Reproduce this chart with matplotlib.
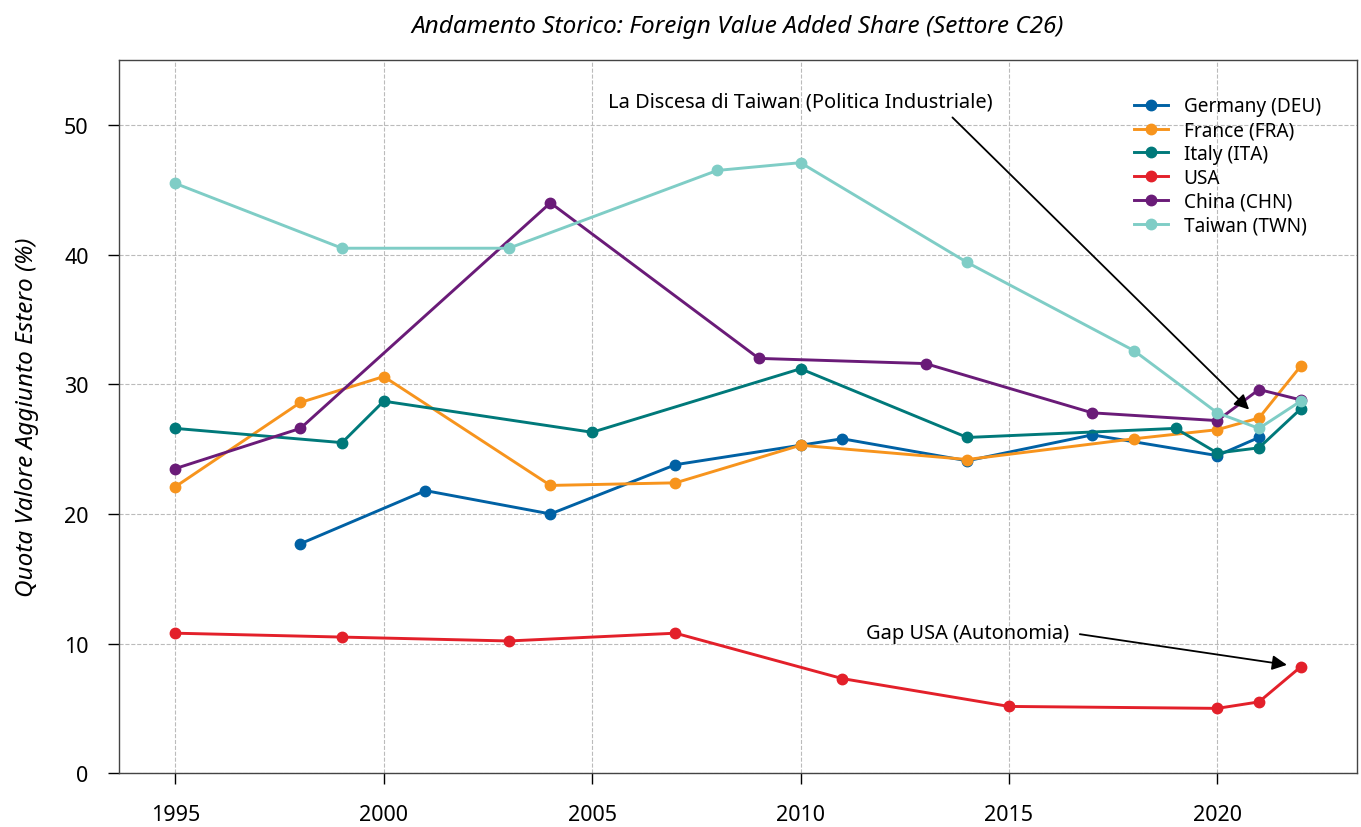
import matplotlib.pyplot as plt

plt.switch_backend('agg')
plt.rcParams['font.family'] = ['Noto Sans', 'DejaVu Sans']

# dati (quota % valore aggiunto estero, settore C26)
deu_years = [1998, 2001, 2004, 2007, 2010, 2011, 2014, 2017, 2020, 2021]
deu_vals = [17.7, 21.8, 20.0, 23.8, 25.3, 25.8, 24.1, 26.1, 24.5, 25.9]

fra_years = [1995, 1998, 2000, 2004, 2007, 2010, 2014, 2018, 2020, 2021, 2022]
fra_vals = [22.1, 28.6, 30.6, 22.2, 22.4, 25.3, 24.2, 25.8, 26.5, 27.4, 31.4]

ita_years = [1995, 1999, 2000, 2005, 2010, 2014, 2019, 2020, 2021, 2022]
ita_vals = [26.6, 25.5, 28.7, 26.3, 31.2, 25.9, 26.6, 24.7, 25.1, 28.1]

usa_years = [1995, 1999, 2003, 2007, 2011, 2015, 2020, 2021, 2022]
usa_vals = [10.8, 10.5, 10.2, 10.8, 7.3, 5.15, 5.0, 5.5, 8.2]

chn_years = [1995, 1998, 2004, 2009, 2013, 2017, 2020, 2021, 2022]
chn_vals = [23.5, 26.6, 44.0, 32.0, 31.6, 27.8, 27.2, 29.6, 28.8]

twn_years = [1995, 1999, 2003, 2008, 2010, 2014, 2018, 2020, 2021, 2022]
twn_vals = [45.5, 40.5, 40.5, 46.5, 47.1, 39.4, 32.6, 27.8, 26.6, 28.7]

series = [
    ("Germany (DEU)", deu_years, deu_vals, "#0061a4"),
    ("France (FRA)", fra_years, fra_vals, "#f7941d"),
    ("Italy (ITA)", ita_years, ita_vals, "#00797a"),
    ("USA", usa_years, usa_vals, "#e3202a"),
    ("China (CHN)", chn_years, chn_vals, "#6a1b78"),
    ("Taiwan (TWN)", twn_years, twn_vals, "#7fcdc6"),
]


def main():
    fig, ax = plt.subplots(figsize=(13.61, 8.28), dpi=100)
    fig.subplots_adjust(left=0.0875, right=0.997, top=0.926, bottom=0.065)

    for label, years, vals, color in series:
        ax.plot(years, vals, marker='o', color=color, lw=2.1, ms=7.5, label=label)

    ax.set_ylim(0, 55)
    ax.set_xticks([1995, 2000, 2005, 2010, 2015, 2020])
    ax.set_yticks([0, 10, 20, 30, 40, 50])
    ax.tick_params(axis='both', direction='out', length=8, width=1, labelsize=15.5, pad=14)
    ax.grid(True, linestyle='--', color='#bbbbbb', lw=0.8)
    for s in ax.spines.values():
        s.set_color('#444444')
        s.set_linewidth(1)

    ax.set_title("Andamento Storico: Foreign Value Added Share (Settore C26)",
                 fontsize=17.5, style='italic', pad=20)
    ax.set_ylabel("Quota Valore Aggiunto Estero (%)", fontsize=17.5, style='italic', labelpad=18)

    ax.annotate("La Discesa di Taiwan (Politica Industriale)",
                xy=(2021.0, 27.3), xytext=(2010, 51.8), ha='center', va='center', fontsize=14.4,
                arrowprops=dict(arrowstyle='-|>', color='black', lw=1.3, mutation_scale=22,
                                relpos=(0.88, 0), shrinkA=3, shrinkB=10))
    ax.annotate("Gap USA (Autonomia)",
                xy=(2022, 8.2), xytext=(2014, 10.85), ha='center', va='center', fontsize=14.4,
                arrowprops=dict(arrowstyle='-|>', color='black', lw=1.3, mutation_scale=22,
                                relpos=(1, 0.5), shrinkA=6, shrinkB=10))

    ax.legend(loc='upper right', fontsize=13.7, frameon=False, handlelength=1.8,
              labelspacing=0.2, borderaxespad=1.5)

    fig.savefig("out.png", dpi=100)
    plt.close(fig)


if __name__ == '__main__':
    main()
